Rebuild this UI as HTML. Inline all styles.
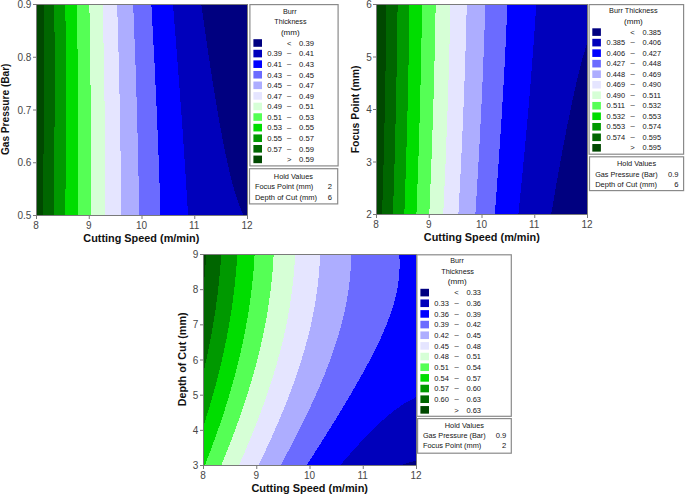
<!DOCTYPE html>
<html><head><meta charset="utf-8"><title>Contour plots</title>
<style>
html,body{margin:0;padding:0;background:#fff;}
body{width:685px;height:494px;overflow:hidden;position:relative;}
svg{position:absolute;left:0;top:0;display:block;}
text{font-family:"Liberation Sans",sans-serif;}
polygon,.c rect{shape-rendering:crispEdges;}
</style></head><body>
<svg width="685" height="494" viewBox="0 0 685 494">
<rect x="37" y="5" width="210" height="210" fill="#004800"/>
<polygon points="247,5 43.93,5 44.04,58 43.88,111 43.45,163 42.75,215 247,215" fill="#006600"/>
<polygon points="247,5 54.39,5 54.64,58 54.61,111 54.3,163 53.7,215 247,215" fill="#009900"/>
<polygon points="247,5 65.38,5 65.8,58 65.93,111 65.75,163 65.28,215 247,215" fill="#00DD00"/>
<polygon points="247,5 77.01,5 77.63,59 77.94,112 77.92,164 77.6,215 247,215" fill="#55FF55"/>
<polygon points="247,5 89.39,5 90.26,59 90.78,112 90.98,164 90.84,215 247,215" fill="#D6FFD6"/>
<polygon points="247,5 102.7,5 103.87,59 104.68,112 105.13,164 105.22,215 247,215" fill="#E5E5FF"/>
<polygon points="247,5 117.18,5 118.76,60 119.93,113 120.72,165 121.11,215 247,215" fill="#ADADFF"/>
<polygon points="247,5 133.2,5 135.33,60 137.05,114 138.3,165 138.77,190 139.13,215 247,215" fill="#6B6BFF"/>
<polygon points="247,5 151.41,5 154.4,61 156.93,115 158.93,166 159.76,191 160.46,215 247,215" fill="#0000FF"/>
<polygon points="247,5 173.05,5 177.71,64 181.73,118 185.16,168 188.08,215 247,215" fill="#0000BB"/>
<polygon points="247,5 201.38,5 204.46,27 207.5,48 210.5,68 213.32,86 216.11,103 218.69,118 221.42,133 223.94,146 226.64,159 229.12,170 231.57,180 234,189 236.41,197 238.8,204 241.15,210 243.46,215 247,215" fill="#000080"/>
<rect x="36.5" y="4.5" width="211" height="211" fill="none" stroke="#7a7a7a" stroke-width="1"/>
<line x1="36.5" y1="215.5" x2="36.5" y2="219" stroke="#7a7a7a" stroke-width="1"/>
<text x="36" y="228.6" font-size="10" text-anchor="middle" font-weight="normal" fill="#474747">8</text>
<line x1="89.25" y1="215.5" x2="89.25" y2="219" stroke="#7a7a7a" stroke-width="1"/>
<text x="88.75" y="228.6" font-size="10" text-anchor="middle" font-weight="normal" fill="#474747">9</text>
<line x1="142" y1="215.5" x2="142" y2="219" stroke="#7a7a7a" stroke-width="1"/>
<text x="141.5" y="228.6" font-size="10" text-anchor="middle" font-weight="normal" fill="#474747">10</text>
<line x1="194.75" y1="215.5" x2="194.75" y2="219" stroke="#7a7a7a" stroke-width="1"/>
<text x="194.25" y="228.6" font-size="10" text-anchor="middle" font-weight="normal" fill="#474747">11</text>
<line x1="247.5" y1="215.5" x2="247.5" y2="219" stroke="#7a7a7a" stroke-width="1"/>
<text x="247" y="228.6" font-size="10" text-anchor="middle" font-weight="normal" fill="#474747">12</text>
<line x1="33" y1="4.5" x2="36.5" y2="4.5" stroke="#7a7a7a" stroke-width="1"/>
<text x="31.4" y="8.1" font-size="10" text-anchor="end" font-weight="normal" fill="#474747">0.9</text>
<line x1="33" y1="57.25" x2="36.5" y2="57.25" stroke="#7a7a7a" stroke-width="1"/>
<text x="31.4" y="60.85" font-size="10" text-anchor="end" font-weight="normal" fill="#474747">0.8</text>
<line x1="33" y1="110" x2="36.5" y2="110" stroke="#7a7a7a" stroke-width="1"/>
<text x="31.4" y="113.6" font-size="10" text-anchor="end" font-weight="normal" fill="#474747">0.7</text>
<line x1="33" y1="162.75" x2="36.5" y2="162.75" stroke="#7a7a7a" stroke-width="1"/>
<text x="31.4" y="166.35" font-size="10" text-anchor="end" font-weight="normal" fill="#474747">0.6</text>
<line x1="33" y1="215.5" x2="36.5" y2="215.5" stroke="#7a7a7a" stroke-width="1"/>
<text x="31.4" y="219.1" font-size="10" text-anchor="end" font-weight="normal" fill="#474747">0.5</text>
<text x="141.3" y="242" font-size="10.1" text-anchor="middle" font-weight="bold" fill="#111" textLength="116" lengthAdjust="spacingAndGlyphs">Cutting Speed (m/min)</text>
<g transform="translate(9.2,109.3) rotate(-90)"><text x="0" y="0" font-size="10.1" text-anchor="middle" font-weight="bold" fill="#111" textLength="91.5" lengthAdjust="spacingAndGlyphs">Gas Pressure (Bar)</text></g>
<rect x="249.9" y="4.6" width="88.2" height="161.3" fill="#fff" stroke="#8a8a8a" stroke-width="1.2"/>
<text x="289.8" y="14.2" font-size="7.6" text-anchor="middle" font-weight="normal" fill="#141414" textLength="13.7" lengthAdjust="spacingAndGlyphs">Burr</text>
<text x="290.4" y="24.2" font-size="7.6" text-anchor="middle" font-weight="normal" fill="#141414" textLength="32.2" lengthAdjust="spacingAndGlyphs">Thickness</text>
<text x="290.3" y="34.6" font-size="7.6" text-anchor="middle" font-weight="normal" fill="#141414" textLength="18.8" lengthAdjust="spacingAndGlyphs">(mm)</text>
<rect x="253.4" y="39.2" width="8.6" height="7.6" fill="#000080"/>
<text x="289.2" y="45.8" font-size="7.6" text-anchor="middle" font-weight="normal" fill="#141414">&lt;</text>
<text x="299" y="45.8" font-size="7.6" text-anchor="start" font-weight="normal" fill="#141414" textLength="14.9" lengthAdjust="spacingAndGlyphs">0.39</text>
<rect x="253.4" y="49.78" width="8.6" height="7.6" fill="#0000BB"/>
<text x="282.1" y="56.38" font-size="7.6" text-anchor="end" font-weight="normal" fill="#141414" textLength="14.9" lengthAdjust="spacingAndGlyphs">0.39</text>
<text x="289.2" y="55.48" font-size="7.6" text-anchor="middle" font-weight="normal" fill="#141414">–</text>
<text x="299" y="56.38" font-size="7.6" text-anchor="start" font-weight="normal" fill="#141414" textLength="14.9" lengthAdjust="spacingAndGlyphs">0.41</text>
<rect x="253.4" y="60.36" width="8.6" height="7.6" fill="#0000FF"/>
<text x="282.1" y="66.96" font-size="7.6" text-anchor="end" font-weight="normal" fill="#141414" textLength="14.9" lengthAdjust="spacingAndGlyphs">0.41</text>
<text x="289.2" y="66.06" font-size="7.6" text-anchor="middle" font-weight="normal" fill="#141414">–</text>
<text x="299" y="66.96" font-size="7.6" text-anchor="start" font-weight="normal" fill="#141414" textLength="14.9" lengthAdjust="spacingAndGlyphs">0.43</text>
<rect x="253.4" y="70.94" width="8.6" height="7.6" fill="#6B6BFF"/>
<text x="282.1" y="77.54" font-size="7.6" text-anchor="end" font-weight="normal" fill="#141414" textLength="14.9" lengthAdjust="spacingAndGlyphs">0.43</text>
<text x="289.2" y="76.64" font-size="7.6" text-anchor="middle" font-weight="normal" fill="#141414">–</text>
<text x="299" y="77.54" font-size="7.6" text-anchor="start" font-weight="normal" fill="#141414" textLength="14.9" lengthAdjust="spacingAndGlyphs">0.45</text>
<rect x="253.4" y="81.52" width="8.6" height="7.6" fill="#ADADFF"/>
<text x="282.1" y="88.12" font-size="7.6" text-anchor="end" font-weight="normal" fill="#141414" textLength="14.9" lengthAdjust="spacingAndGlyphs">0.45</text>
<text x="289.2" y="87.22" font-size="7.6" text-anchor="middle" font-weight="normal" fill="#141414">–</text>
<text x="299" y="88.12" font-size="7.6" text-anchor="start" font-weight="normal" fill="#141414" textLength="14.9" lengthAdjust="spacingAndGlyphs">0.47</text>
<rect x="253.4" y="92.1" width="8.6" height="7.6" fill="#E5E5FF"/>
<text x="282.1" y="98.7" font-size="7.6" text-anchor="end" font-weight="normal" fill="#141414" textLength="14.9" lengthAdjust="spacingAndGlyphs">0.47</text>
<text x="289.2" y="97.8" font-size="7.6" text-anchor="middle" font-weight="normal" fill="#141414">–</text>
<text x="299" y="98.7" font-size="7.6" text-anchor="start" font-weight="normal" fill="#141414" textLength="14.9" lengthAdjust="spacingAndGlyphs">0.49</text>
<rect x="253.4" y="102.68" width="8.6" height="7.6" fill="#D6FFD6"/>
<text x="282.1" y="109.28" font-size="7.6" text-anchor="end" font-weight="normal" fill="#141414" textLength="14.9" lengthAdjust="spacingAndGlyphs">0.49</text>
<text x="289.2" y="108.38" font-size="7.6" text-anchor="middle" font-weight="normal" fill="#141414">–</text>
<text x="299" y="109.28" font-size="7.6" text-anchor="start" font-weight="normal" fill="#141414" textLength="14.9" lengthAdjust="spacingAndGlyphs">0.51</text>
<rect x="253.4" y="113.26" width="8.6" height="7.6" fill="#55FF55"/>
<text x="282.1" y="119.86" font-size="7.6" text-anchor="end" font-weight="normal" fill="#141414" textLength="14.9" lengthAdjust="spacingAndGlyphs">0.51</text>
<text x="289.2" y="118.96" font-size="7.6" text-anchor="middle" font-weight="normal" fill="#141414">–</text>
<text x="299" y="119.86" font-size="7.6" text-anchor="start" font-weight="normal" fill="#141414" textLength="14.9" lengthAdjust="spacingAndGlyphs">0.53</text>
<rect x="253.4" y="123.84" width="8.6" height="7.6" fill="#00DD00"/>
<text x="282.1" y="130.44" font-size="7.6" text-anchor="end" font-weight="normal" fill="#141414" textLength="14.9" lengthAdjust="spacingAndGlyphs">0.53</text>
<text x="289.2" y="129.54" font-size="7.6" text-anchor="middle" font-weight="normal" fill="#141414">–</text>
<text x="299" y="130.44" font-size="7.6" text-anchor="start" font-weight="normal" fill="#141414" textLength="14.9" lengthAdjust="spacingAndGlyphs">0.55</text>
<rect x="253.4" y="134.42" width="8.6" height="7.6" fill="#009900"/>
<text x="282.1" y="141.02" font-size="7.6" text-anchor="end" font-weight="normal" fill="#141414" textLength="14.9" lengthAdjust="spacingAndGlyphs">0.55</text>
<text x="289.2" y="140.12" font-size="7.6" text-anchor="middle" font-weight="normal" fill="#141414">–</text>
<text x="299" y="141.02" font-size="7.6" text-anchor="start" font-weight="normal" fill="#141414" textLength="14.9" lengthAdjust="spacingAndGlyphs">0.57</text>
<rect x="253.4" y="145" width="8.6" height="7.6" fill="#006600"/>
<text x="282.1" y="151.6" font-size="7.6" text-anchor="end" font-weight="normal" fill="#141414" textLength="14.9" lengthAdjust="spacingAndGlyphs">0.57</text>
<text x="289.2" y="150.7" font-size="7.6" text-anchor="middle" font-weight="normal" fill="#141414">–</text>
<text x="299" y="151.6" font-size="7.6" text-anchor="start" font-weight="normal" fill="#141414" textLength="14.9" lengthAdjust="spacingAndGlyphs">0.59</text>
<rect x="253.4" y="155.58" width="8.6" height="7.6" fill="#004800"/>
<text x="289.2" y="162.18" font-size="7.6" text-anchor="middle" font-weight="normal" fill="#141414">&gt;</text>
<text x="299" y="162.18" font-size="7.6" text-anchor="start" font-weight="normal" fill="#141414" textLength="14.9" lengthAdjust="spacingAndGlyphs">0.59</text>
<rect x="249.5" y="168.7" width="88.2" height="35.2" fill="#fff" stroke="#8a8a8a" stroke-width="1.2"/>
<text x="293.4" y="178.9" font-size="7.6" text-anchor="middle" font-weight="normal" fill="#141414" textLength="39.1" lengthAdjust="spacingAndGlyphs">Hold Values</text>
<text x="254.9" y="189.1" font-size="7.6" text-anchor="start" font-weight="normal" fill="#141414" textLength="58.4" lengthAdjust="spacingAndGlyphs">Focus Point (mm)</text>
<text x="332.1" y="189.1" font-size="7.6" text-anchor="end" font-weight="normal" fill="#141414">2</text>
<text x="254.9" y="199.5" font-size="7.6" text-anchor="start" font-weight="normal" fill="#141414" textLength="62.1" lengthAdjust="spacingAndGlyphs">Depth of Cut (mm)</text>
<text x="332.1" y="199.5" font-size="7.6" text-anchor="end" font-weight="normal" fill="#141414">6</text>
<rect x="377" y="5" width="210" height="209" fill="#004800"/>
<polygon points="587,5 386.39,5 385.77,57 384.84,109 383.64,161 382.12,214 587,214" fill="#006600"/>
<polygon points="587,5 397.61,5 396.9,57 395.89,109 394.58,161 392.95,214 587,214" fill="#009900"/>
<polygon points="587,5 409.47,5 408.69,56 407.58,108 406.12,161 404.35,214 587,214" fill="#00DD00"/>
<polygon points="587,5 422.09,5 421.21,56 419.97,108 418.37,161 416.43,214 587,214" fill="#55FF55"/>
<polygon points="587,5 435.67,5 434.65,56 433.25,108 431.46,161 429.33,214 587,214" fill="#D6FFD6"/>
<polygon points="587,5 450.43,5 449.24,56 447.64,108 445.63,161 443.23,214 587,214" fill="#E5E5FF"/>
<polygon points="587,5 466.77,5 466.13,30 465.35,56 464.51,81 463.52,107 462.44,133 461.21,160 458.43,214 587,214" fill="#ADADFF"/>
<polygon points="587,5 485.33,5 484.53,30 483.62,55 482.55,81 481.37,107 480.08,133 478.62,160 477.05,187 475.37,214 587,214" fill="#6B6BFF"/>
<polygon points="587,5 507.38,5 506.32,30 505.13,55 503.81,80 502.31,106 500.68,132 498.87,159 496.94,186 494.83,214 587,214" fill="#0000FF"/>
<polygon points="587,5 536.24,5 534.72,28 533,52 531.06,77 529,102 526.63,129 524.15,156 521.45,184 518.44,214 587,214" fill="#0000BB"/>
<polygon points="587,5 587,5 587,43 586.88,44 584.97,50 583.2,56 581.28,63 579.47,70 577.5,78 575.4,87 571.25,106 566.79,128 561.84,154 556.77,182 551.21,214 587,214" fill="#000080"/>
<rect x="376.5" y="4.5" width="211" height="210" fill="none" stroke="#7a7a7a" stroke-width="1"/>
<line x1="376.5" y1="214.5" x2="376.5" y2="218" stroke="#7a7a7a" stroke-width="1"/>
<text x="376" y="227.6" font-size="10" text-anchor="middle" font-weight="normal" fill="#474747">8</text>
<line x1="429.25" y1="214.5" x2="429.25" y2="218" stroke="#7a7a7a" stroke-width="1"/>
<text x="428.75" y="227.6" font-size="10" text-anchor="middle" font-weight="normal" fill="#474747">9</text>
<line x1="482" y1="214.5" x2="482" y2="218" stroke="#7a7a7a" stroke-width="1"/>
<text x="481.5" y="227.6" font-size="10" text-anchor="middle" font-weight="normal" fill="#474747">10</text>
<line x1="534.75" y1="214.5" x2="534.75" y2="218" stroke="#7a7a7a" stroke-width="1"/>
<text x="534.25" y="227.6" font-size="10" text-anchor="middle" font-weight="normal" fill="#474747">11</text>
<line x1="587.5" y1="214.5" x2="587.5" y2="218" stroke="#7a7a7a" stroke-width="1"/>
<text x="587" y="227.6" font-size="10" text-anchor="middle" font-weight="normal" fill="#474747">12</text>
<line x1="373" y1="4.5" x2="376.5" y2="4.5" stroke="#7a7a7a" stroke-width="1"/>
<text x="371.8" y="8.1" font-size="10" text-anchor="end" font-weight="normal" fill="#474747">6</text>
<line x1="373" y1="57" x2="376.5" y2="57" stroke="#7a7a7a" stroke-width="1"/>
<text x="371.8" y="60.6" font-size="10" text-anchor="end" font-weight="normal" fill="#474747">5</text>
<line x1="373" y1="109.5" x2="376.5" y2="109.5" stroke="#7a7a7a" stroke-width="1"/>
<text x="371.8" y="113.1" font-size="10" text-anchor="end" font-weight="normal" fill="#474747">4</text>
<line x1="373" y1="162" x2="376.5" y2="162" stroke="#7a7a7a" stroke-width="1"/>
<text x="371.8" y="165.6" font-size="10" text-anchor="end" font-weight="normal" fill="#474747">3</text>
<line x1="373" y1="214.5" x2="376.5" y2="214.5" stroke="#7a7a7a" stroke-width="1"/>
<text x="371.8" y="218.1" font-size="10" text-anchor="end" font-weight="normal" fill="#474747">2</text>
<text x="481.8" y="241.3" font-size="10.1" text-anchor="middle" font-weight="bold" fill="#111" textLength="116" lengthAdjust="spacingAndGlyphs">Cutting Speed (m/min)</text>
<g transform="translate(358.6,109.4) rotate(-90)"><text x="0" y="0" font-size="10.1" text-anchor="middle" font-weight="bold" fill="#111" textLength="87.8" lengthAdjust="spacingAndGlyphs">Focus Point (mm)</text></g>
<rect x="589.1" y="4.6" width="94.5" height="149.6" fill="#fff" stroke="#8a8a8a" stroke-width="1.2"/>
<text x="633.4" y="13.4" font-size="7.6" text-anchor="middle" font-weight="normal" fill="#141414" textLength="48.6" lengthAdjust="spacingAndGlyphs">Burr Thickness</text>
<text x="633.4" y="24.1" font-size="7.6" text-anchor="middle" font-weight="normal" fill="#141414" textLength="18.8" lengthAdjust="spacingAndGlyphs">(mm)</text>
<rect x="592.3" y="28.3" width="8.6" height="7.6" fill="#000080"/>
<text x="632.5" y="34.5" font-size="7.6" text-anchor="middle" font-weight="normal" fill="#141414">&lt;</text>
<text x="642.6" y="34.5" font-size="7.6" text-anchor="start" font-weight="normal" fill="#141414" textLength="18.5" lengthAdjust="spacingAndGlyphs">0.385</text>
<rect x="592.3" y="38.82" width="8.6" height="7.6" fill="#0000BB"/>
<text x="625.1" y="45.02" font-size="7.6" text-anchor="end" font-weight="normal" fill="#141414" textLength="18.5" lengthAdjust="spacingAndGlyphs">0.385</text>
<text x="632.5" y="44.12" font-size="7.6" text-anchor="middle" font-weight="normal" fill="#141414">–</text>
<text x="642.6" y="45.02" font-size="7.6" text-anchor="start" font-weight="normal" fill="#141414" textLength="18.5" lengthAdjust="spacingAndGlyphs">0.406</text>
<rect x="592.3" y="49.34" width="8.6" height="7.6" fill="#0000FF"/>
<text x="625.1" y="55.54" font-size="7.6" text-anchor="end" font-weight="normal" fill="#141414" textLength="18.5" lengthAdjust="spacingAndGlyphs">0.406</text>
<text x="632.5" y="54.64" font-size="7.6" text-anchor="middle" font-weight="normal" fill="#141414">–</text>
<text x="642.6" y="55.54" font-size="7.6" text-anchor="start" font-weight="normal" fill="#141414" textLength="18.5" lengthAdjust="spacingAndGlyphs">0.427</text>
<rect x="592.3" y="59.86" width="8.6" height="7.6" fill="#6B6BFF"/>
<text x="625.1" y="66.06" font-size="7.6" text-anchor="end" font-weight="normal" fill="#141414" textLength="18.5" lengthAdjust="spacingAndGlyphs">0.427</text>
<text x="632.5" y="65.16" font-size="7.6" text-anchor="middle" font-weight="normal" fill="#141414">–</text>
<text x="642.6" y="66.06" font-size="7.6" text-anchor="start" font-weight="normal" fill="#141414" textLength="18.5" lengthAdjust="spacingAndGlyphs">0.448</text>
<rect x="592.3" y="70.38" width="8.6" height="7.6" fill="#ADADFF"/>
<text x="625.1" y="76.58" font-size="7.6" text-anchor="end" font-weight="normal" fill="#141414" textLength="18.5" lengthAdjust="spacingAndGlyphs">0.448</text>
<text x="632.5" y="75.68" font-size="7.6" text-anchor="middle" font-weight="normal" fill="#141414">–</text>
<text x="642.6" y="76.58" font-size="7.6" text-anchor="start" font-weight="normal" fill="#141414" textLength="18.5" lengthAdjust="spacingAndGlyphs">0.469</text>
<rect x="592.3" y="80.9" width="8.6" height="7.6" fill="#E5E5FF"/>
<text x="625.1" y="87.1" font-size="7.6" text-anchor="end" font-weight="normal" fill="#141414" textLength="18.5" lengthAdjust="spacingAndGlyphs">0.469</text>
<text x="632.5" y="86.2" font-size="7.6" text-anchor="middle" font-weight="normal" fill="#141414">–</text>
<text x="642.6" y="87.1" font-size="7.6" text-anchor="start" font-weight="normal" fill="#141414" textLength="18.5" lengthAdjust="spacingAndGlyphs">0.490</text>
<rect x="592.3" y="91.42" width="8.6" height="7.6" fill="#D6FFD6"/>
<text x="625.1" y="97.62" font-size="7.6" text-anchor="end" font-weight="normal" fill="#141414" textLength="18.5" lengthAdjust="spacingAndGlyphs">0.490</text>
<text x="632.5" y="96.72" font-size="7.6" text-anchor="middle" font-weight="normal" fill="#141414">–</text>
<text x="642.6" y="97.62" font-size="7.6" text-anchor="start" font-weight="normal" fill="#141414" textLength="18.5" lengthAdjust="spacingAndGlyphs">0.511</text>
<rect x="592.3" y="101.94" width="8.6" height="7.6" fill="#55FF55"/>
<text x="625.1" y="108.14" font-size="7.6" text-anchor="end" font-weight="normal" fill="#141414" textLength="18.5" lengthAdjust="spacingAndGlyphs">0.511</text>
<text x="632.5" y="107.24" font-size="7.6" text-anchor="middle" font-weight="normal" fill="#141414">–</text>
<text x="642.6" y="108.14" font-size="7.6" text-anchor="start" font-weight="normal" fill="#141414" textLength="18.5" lengthAdjust="spacingAndGlyphs">0.532</text>
<rect x="592.3" y="112.46" width="8.6" height="7.6" fill="#00DD00"/>
<text x="625.1" y="118.66" font-size="7.6" text-anchor="end" font-weight="normal" fill="#141414" textLength="18.5" lengthAdjust="spacingAndGlyphs">0.532</text>
<text x="632.5" y="117.76" font-size="7.6" text-anchor="middle" font-weight="normal" fill="#141414">–</text>
<text x="642.6" y="118.66" font-size="7.6" text-anchor="start" font-weight="normal" fill="#141414" textLength="18.5" lengthAdjust="spacingAndGlyphs">0.553</text>
<rect x="592.3" y="122.98" width="8.6" height="7.6" fill="#009900"/>
<text x="625.1" y="129.18" font-size="7.6" text-anchor="end" font-weight="normal" fill="#141414" textLength="18.5" lengthAdjust="spacingAndGlyphs">0.553</text>
<text x="632.5" y="128.28" font-size="7.6" text-anchor="middle" font-weight="normal" fill="#141414">–</text>
<text x="642.6" y="129.18" font-size="7.6" text-anchor="start" font-weight="normal" fill="#141414" textLength="18.5" lengthAdjust="spacingAndGlyphs">0.574</text>
<rect x="592.3" y="133.5" width="8.6" height="7.6" fill="#006600"/>
<text x="625.1" y="139.7" font-size="7.6" text-anchor="end" font-weight="normal" fill="#141414" textLength="18.5" lengthAdjust="spacingAndGlyphs">0.574</text>
<text x="632.5" y="138.8" font-size="7.6" text-anchor="middle" font-weight="normal" fill="#141414">–</text>
<text x="642.6" y="139.7" font-size="7.6" text-anchor="start" font-weight="normal" fill="#141414" textLength="18.5" lengthAdjust="spacingAndGlyphs">0.595</text>
<rect x="592.3" y="144.02" width="8.6" height="7.6" fill="#004800"/>
<text x="632.5" y="150.22" font-size="7.6" text-anchor="middle" font-weight="normal" fill="#141414">&gt;</text>
<text x="642.6" y="150.22" font-size="7.6" text-anchor="start" font-weight="normal" fill="#141414" textLength="18.5" lengthAdjust="spacingAndGlyphs">0.595</text>
<rect x="589.5" y="156.8" width="94.1" height="33.8" fill="#fff" stroke="#8a8a8a" stroke-width="1.2"/>
<text x="636.6" y="166.4" font-size="7.6" text-anchor="middle" font-weight="normal" fill="#141414" textLength="39.1" lengthAdjust="spacingAndGlyphs">Hold Values</text>
<text x="595.2" y="177.2" font-size="7.6" text-anchor="start" font-weight="normal" fill="#141414" textLength="62.4" lengthAdjust="spacingAndGlyphs">Gas Pressure (Bar)</text>
<text x="678.6" y="177.2" font-size="7.6" text-anchor="end" font-weight="normal" fill="#141414">0.9</text>
<text x="595.2" y="187.2" font-size="7.6" text-anchor="start" font-weight="normal" fill="#141414" textLength="61.8" lengthAdjust="spacingAndGlyphs">Depth of Cut (mm)</text>
<text x="678.6" y="187.2" font-size="7.6" text-anchor="end" font-weight="normal" fill="#141414">6</text>
<rect x="204" y="255" width="212" height="210" fill="#004800"/>
<polygon points="416,255 206.26,255 205.39,267 204.01,282 204,283 204,465 416,465" fill="#006600"/>
<polygon points="416,255 221.23,255 220.22,269 218.9,283 217.28,297 215.2,312 212.96,326 210.22,341 207.36,355 204,370 204,465 416,465" fill="#009900"/>
<polygon points="416,255 237.26,255 236.51,266 235.65,276 234.63,286 233.44,296 232.08,306 230.4,317 228.7,327 226.63,338 224.59,348 222.16,359 219.79,369 217,380 214.04,391 210.9,402 207.59,413 204.12,424 204,425 204,465 416,465" fill="#00DD00"/>
<polygon points="416,255 254.61,255 253.74,268 252.65,280 251.31,292 249.56,305 247.67,317 245.33,330 242.7,343 239.77,356 236.57,369 233.09,382 229.34,395 225.02,409 220.41,423 215.53,437 210.4,451 205.01,465 416,465" fill="#55FF55"/>
<polygon points="416,255 273.68,255 272.85,268 271.77,280 270.4,292 268.59,305 266.62,317 264.17,330 261.61,342 258.54,355 255.16,368 251.48,381 247.51,394 242.93,408 238.05,422 232.88,436 227.44,450 221.34,465 416,465" fill="#D6FFD6"/>
<polygon points="416,255 295.11,255 294.4,267 293.36,279 291.99,291 290.13,304 288.07,316 285.48,329 282.76,341 279.47,354 275.84,367 271.88,380 267.61,393 262.68,407 257.43,421 251.88,435 245.62,450 239.06,465 416,465" fill="#E5E5FF"/>
<polygon points="416,255 320.06,255 319.44,267 318.43,279 317.01,291 315.2,303 313,315 310.41,327 307.46,339 303.87,352 299.89,365 295.53,378 290.83,391 285.41,405 279.64,419 273.11,434 266.26,449 258.63,465 416,465" fill="#ADADFF"/>
<polygon points="416,255 351.24,255 351.08,261 350.79,267 350.37,273 349.91,278 349.37,283 348.59,289 347.69,295 346.65,301 345.69,306 344.42,312 343.03,318 341.52,324 339.89,330 338.15,336 336.3,342 334.34,348 332.28,354 329.76,361 324.75,374 319.34,387 313.13,401 306.08,416 298.66,431 289.89,448 280.76,465 416,465" fill="#6B6BFF"/>
<polygon points="416,255 399.35,255 399.57,260 399.62,265 399.49,270 399.25,274 398.89,278 398.27,283 397.64,287 396.7,292 395.57,297 394.28,302 392.82,307 391.21,312 389.46,317 387.57,322 385.57,327 383.01,333 380.31,339 377.47,345 374.52,351 370.95,358 363.44,372 354.96,387 344.95,404 334,422 321.52,442 306.87,465 416,465" fill="#0000FF"/>
<polygon points="416,255 416,255 416,397 414.67,398 410.55,400 406.94,402 403.66,404 399.19,407 395.08,410 391.25,413 387.62,416 383.03,420 378.67,424 373.47,429 368.48,434 363.66,439 358.06,445 352.62,451 346.45,458 340.42,465 416,465" fill="#0000BB"/>
<polygon points="416,255 416,255 416,460 415.42,461 411.09,462 407.58,463 404.54,464 401.81,465 416,465" fill="#000080"/>
<rect x="203.5" y="254.5" width="213" height="211" fill="none" stroke="#7a7a7a" stroke-width="1"/>
<line x1="203.5" y1="465.5" x2="203.5" y2="469" stroke="#7a7a7a" stroke-width="1"/>
<text x="203" y="478.6" font-size="10" text-anchor="middle" font-weight="normal" fill="#474747">8</text>
<line x1="256.75" y1="465.5" x2="256.75" y2="469" stroke="#7a7a7a" stroke-width="1"/>
<text x="256.25" y="478.6" font-size="10" text-anchor="middle" font-weight="normal" fill="#474747">9</text>
<line x1="310" y1="465.5" x2="310" y2="469" stroke="#7a7a7a" stroke-width="1"/>
<text x="309.5" y="478.6" font-size="10" text-anchor="middle" font-weight="normal" fill="#474747">10</text>
<line x1="363.25" y1="465.5" x2="363.25" y2="469" stroke="#7a7a7a" stroke-width="1"/>
<text x="362.75" y="478.6" font-size="10" text-anchor="middle" font-weight="normal" fill="#474747">11</text>
<line x1="416.5" y1="465.5" x2="416.5" y2="469" stroke="#7a7a7a" stroke-width="1"/>
<text x="416" y="478.6" font-size="10" text-anchor="middle" font-weight="normal" fill="#474747">12</text>
<line x1="200" y1="254.5" x2="203.5" y2="254.5" stroke="#7a7a7a" stroke-width="1"/>
<text x="198.2" y="258.1" font-size="10" text-anchor="end" font-weight="normal" fill="#474747">9</text>
<line x1="200" y1="289.67" x2="203.5" y2="289.67" stroke="#7a7a7a" stroke-width="1"/>
<text x="198.2" y="293.27" font-size="10" text-anchor="end" font-weight="normal" fill="#474747">8</text>
<line x1="200" y1="324.84" x2="203.5" y2="324.84" stroke="#7a7a7a" stroke-width="1"/>
<text x="198.2" y="328.44" font-size="10" text-anchor="end" font-weight="normal" fill="#474747">7</text>
<line x1="200" y1="360.01" x2="203.5" y2="360.01" stroke="#7a7a7a" stroke-width="1"/>
<text x="198.2" y="363.61" font-size="10" text-anchor="end" font-weight="normal" fill="#474747">6</text>
<line x1="200" y1="395.18" x2="203.5" y2="395.18" stroke="#7a7a7a" stroke-width="1"/>
<text x="198.2" y="398.78" font-size="10" text-anchor="end" font-weight="normal" fill="#474747">5</text>
<line x1="200" y1="430.35" x2="203.5" y2="430.35" stroke="#7a7a7a" stroke-width="1"/>
<text x="198.2" y="433.95" font-size="10" text-anchor="end" font-weight="normal" fill="#474747">4</text>
<line x1="200" y1="465.52" x2="203.5" y2="465.52" stroke="#7a7a7a" stroke-width="1"/>
<text x="198.2" y="469.12" font-size="10" text-anchor="end" font-weight="normal" fill="#474747">3</text>
<text x="309.7" y="491.8" font-size="10.1" text-anchor="middle" font-weight="bold" fill="#111" textLength="116.6" lengthAdjust="spacingAndGlyphs">Cutting Speed (m/min)</text>
<g transform="translate(185.6,359.4) rotate(-90)"><text x="0" y="0" font-size="10.1" text-anchor="middle" font-weight="bold" fill="#111" textLength="93.9" lengthAdjust="spacingAndGlyphs">Depth of Cut (mm)</text></g>
<rect x="416.9" y="254.8" width="94.4" height="161.5" fill="#fff" stroke="#8a8a8a" stroke-width="1.2"/>
<text x="457" y="263.4" font-size="7.6" text-anchor="middle" font-weight="normal" fill="#141414" textLength="13.6" lengthAdjust="spacingAndGlyphs">Burr</text>
<text x="457.6" y="273.7" font-size="7.6" text-anchor="middle" font-weight="normal" fill="#141414" textLength="32.8" lengthAdjust="spacingAndGlyphs">Thickness</text>
<text x="457.3" y="284.4" font-size="7.6" text-anchor="middle" font-weight="normal" fill="#141414" textLength="18.9" lengthAdjust="spacingAndGlyphs">(mm)</text>
<rect x="420.4" y="288.8" width="8.6" height="7.6" fill="#000080"/>
<text x="456.5" y="295.3" font-size="7.6" text-anchor="middle" font-weight="normal" fill="#141414">&lt;</text>
<text x="466.4" y="295.3" font-size="7.6" text-anchor="start" font-weight="normal" fill="#141414" textLength="14.6" lengthAdjust="spacingAndGlyphs">0.33</text>
<rect x="420.4" y="299.46" width="8.6" height="7.6" fill="#0000BB"/>
<text x="448.9" y="305.96" font-size="7.6" text-anchor="end" font-weight="normal" fill="#141414" textLength="14.6" lengthAdjust="spacingAndGlyphs">0.33</text>
<text x="456.5" y="305.06" font-size="7.6" text-anchor="middle" font-weight="normal" fill="#141414">–</text>
<text x="466.4" y="305.96" font-size="7.6" text-anchor="start" font-weight="normal" fill="#141414" textLength="14.6" lengthAdjust="spacingAndGlyphs">0.36</text>
<rect x="420.4" y="310.12" width="8.6" height="7.6" fill="#0000FF"/>
<text x="448.9" y="316.62" font-size="7.6" text-anchor="end" font-weight="normal" fill="#141414" textLength="14.6" lengthAdjust="spacingAndGlyphs">0.36</text>
<text x="456.5" y="315.72" font-size="7.6" text-anchor="middle" font-weight="normal" fill="#141414">–</text>
<text x="466.4" y="316.62" font-size="7.6" text-anchor="start" font-weight="normal" fill="#141414" textLength="14.6" lengthAdjust="spacingAndGlyphs">0.39</text>
<rect x="420.4" y="320.78" width="8.6" height="7.6" fill="#6B6BFF"/>
<text x="448.9" y="327.28" font-size="7.6" text-anchor="end" font-weight="normal" fill="#141414" textLength="14.6" lengthAdjust="spacingAndGlyphs">0.39</text>
<text x="456.5" y="326.38" font-size="7.6" text-anchor="middle" font-weight="normal" fill="#141414">–</text>
<text x="466.4" y="327.28" font-size="7.6" text-anchor="start" font-weight="normal" fill="#141414" textLength="14.6" lengthAdjust="spacingAndGlyphs">0.42</text>
<rect x="420.4" y="331.44" width="8.6" height="7.6" fill="#ADADFF"/>
<text x="448.9" y="337.94" font-size="7.6" text-anchor="end" font-weight="normal" fill="#141414" textLength="14.6" lengthAdjust="spacingAndGlyphs">0.42</text>
<text x="456.5" y="337.04" font-size="7.6" text-anchor="middle" font-weight="normal" fill="#141414">–</text>
<text x="466.4" y="337.94" font-size="7.6" text-anchor="start" font-weight="normal" fill="#141414" textLength="14.6" lengthAdjust="spacingAndGlyphs">0.45</text>
<rect x="420.4" y="342.1" width="8.6" height="7.6" fill="#E5E5FF"/>
<text x="448.9" y="348.6" font-size="7.6" text-anchor="end" font-weight="normal" fill="#141414" textLength="14.6" lengthAdjust="spacingAndGlyphs">0.45</text>
<text x="456.5" y="347.7" font-size="7.6" text-anchor="middle" font-weight="normal" fill="#141414">–</text>
<text x="466.4" y="348.6" font-size="7.6" text-anchor="start" font-weight="normal" fill="#141414" textLength="14.6" lengthAdjust="spacingAndGlyphs">0.48</text>
<rect x="420.4" y="352.76" width="8.6" height="7.6" fill="#D6FFD6"/>
<text x="448.9" y="359.26" font-size="7.6" text-anchor="end" font-weight="normal" fill="#141414" textLength="14.6" lengthAdjust="spacingAndGlyphs">0.48</text>
<text x="456.5" y="358.36" font-size="7.6" text-anchor="middle" font-weight="normal" fill="#141414">–</text>
<text x="466.4" y="359.26" font-size="7.6" text-anchor="start" font-weight="normal" fill="#141414" textLength="14.6" lengthAdjust="spacingAndGlyphs">0.51</text>
<rect x="420.4" y="363.42" width="8.6" height="7.6" fill="#55FF55"/>
<text x="448.9" y="369.92" font-size="7.6" text-anchor="end" font-weight="normal" fill="#141414" textLength="14.6" lengthAdjust="spacingAndGlyphs">0.51</text>
<text x="456.5" y="369.02" font-size="7.6" text-anchor="middle" font-weight="normal" fill="#141414">–</text>
<text x="466.4" y="369.92" font-size="7.6" text-anchor="start" font-weight="normal" fill="#141414" textLength="14.6" lengthAdjust="spacingAndGlyphs">0.54</text>
<rect x="420.4" y="374.08" width="8.6" height="7.6" fill="#00DD00"/>
<text x="448.9" y="380.58" font-size="7.6" text-anchor="end" font-weight="normal" fill="#141414" textLength="14.6" lengthAdjust="spacingAndGlyphs">0.54</text>
<text x="456.5" y="379.68" font-size="7.6" text-anchor="middle" font-weight="normal" fill="#141414">–</text>
<text x="466.4" y="380.58" font-size="7.6" text-anchor="start" font-weight="normal" fill="#141414" textLength="14.6" lengthAdjust="spacingAndGlyphs">0.57</text>
<rect x="420.4" y="384.74" width="8.6" height="7.6" fill="#009900"/>
<text x="448.9" y="391.24" font-size="7.6" text-anchor="end" font-weight="normal" fill="#141414" textLength="14.6" lengthAdjust="spacingAndGlyphs">0.57</text>
<text x="456.5" y="390.34" font-size="7.6" text-anchor="middle" font-weight="normal" fill="#141414">–</text>
<text x="466.4" y="391.24" font-size="7.6" text-anchor="start" font-weight="normal" fill="#141414" textLength="14.6" lengthAdjust="spacingAndGlyphs">0.60</text>
<rect x="420.4" y="395.4" width="8.6" height="7.6" fill="#006600"/>
<text x="448.9" y="401.9" font-size="7.6" text-anchor="end" font-weight="normal" fill="#141414" textLength="14.6" lengthAdjust="spacingAndGlyphs">0.60</text>
<text x="456.5" y="401" font-size="7.6" text-anchor="middle" font-weight="normal" fill="#141414">–</text>
<text x="466.4" y="401.9" font-size="7.6" text-anchor="start" font-weight="normal" fill="#141414" textLength="14.6" lengthAdjust="spacingAndGlyphs">0.63</text>
<rect x="420.4" y="406.06" width="8.6" height="7.6" fill="#004800"/>
<text x="456.5" y="412.56" font-size="7.6" text-anchor="middle" font-weight="normal" fill="#141414">&gt;</text>
<text x="466.4" y="412.56" font-size="7.6" text-anchor="start" font-weight="normal" fill="#141414" textLength="14.6" lengthAdjust="spacingAndGlyphs">0.63</text>
<rect x="417.6" y="418.6" width="93.7" height="34.6" fill="#fff" stroke="#8a8a8a" stroke-width="1.2"/>
<text x="464.4" y="427.9" font-size="7.6" text-anchor="middle" font-weight="normal" fill="#141414" textLength="39.2" lengthAdjust="spacingAndGlyphs">Hold Values</text>
<text x="422.9" y="437.9" font-size="7.6" text-anchor="start" font-weight="normal" fill="#141414" textLength="62.8" lengthAdjust="spacingAndGlyphs">Gas Pressure (Bar)</text>
<text x="506.3" y="437.9" font-size="7.6" text-anchor="end" font-weight="normal" fill="#141414">0.9</text>
<text x="422.9" y="448.2" font-size="7.6" text-anchor="start" font-weight="normal" fill="#141414" textLength="58.4" lengthAdjust="spacingAndGlyphs">Focus Point (mm)</text>
<text x="506.3" y="448.2" font-size="7.6" text-anchor="end" font-weight="normal" fill="#141414">2</text>
</svg>
</body></html>
